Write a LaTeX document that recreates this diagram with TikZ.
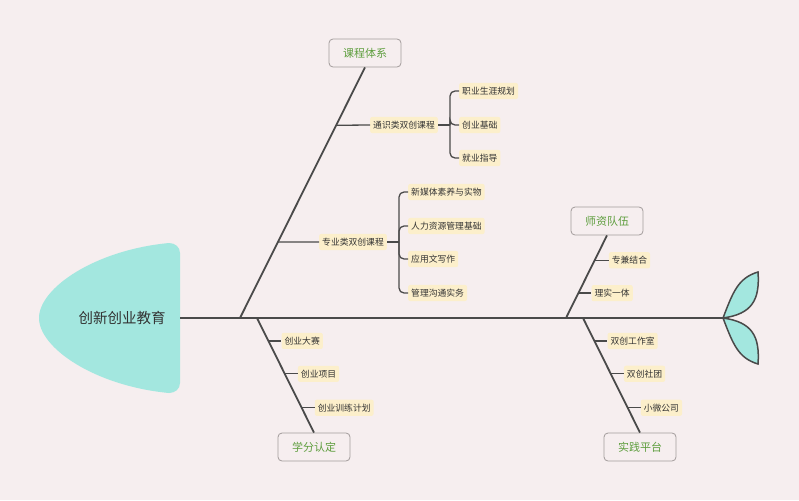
\documentclass[tikz,border=0pt]{standalone}
\usepackage{fontspec}
\setmainfont{Noto Sans CJK SC}
\usetikzlibrary{calc}
\definecolor{bgpink}{HTML}{F6EEEF}
\definecolor{headteal}{HTML}{A3E7DF}
\definecolor{boneline}{HTML}{4A4A4A}
\definecolor{boxline}{HTML}{A39C9C}
\definecolor{causegreen}{HTML}{5E9E3E}
\definecolor{itemfill}{HTML}{FCEFCB}
\definecolor{textgray}{HTML}{333333}
\tikzset{
  bone/.style={draw=boneline, line width=1.8pt},
  twig/.style={draw=boneline, line width=1.3pt},
  cause/.style={draw=boxline, line width=0.8pt, fill=bgpink, rounded corners=4pt,
    minimum width=72pt, minimum height=28pt, text=causegreen, font=\fontsize{11}{13}\selectfont},
  item/.style={fill=itemfill, rounded corners=2pt, inner xsep=3pt, inner ysep=4pt,
    text=textgray, font=\fontsize{8.8}{10}\selectfont},
}
\begin{document}
\begin{tikzpicture}[x=1pt, y=-1pt]
    \useasboundingbox (0,0) rectangle (799,500);
    \fill[bgpink] (0,0) rectangle (799,500);
    % head and tail
    \fill[headteal] (180,383) -- (180,253) .. controls (180,247) and (175,243) .. (169,243)
        .. controls (95,250) and (39,288) .. (39,318)
        .. controls (39,348) and (95,386) .. (169,393)
        .. controls (175,393) and (180,389) .. (180,383) -- cycle;
    \node[text=textgray, font=\fontsize{14.5}{16}\selectfont] (title) at (122,318) {创新创业教育};
    \coordinate (head) at (180,318);
    \coordinate (tail) at (723,318);
    \draw[bone] (head) -- (tail);
    \draw[fill=headteal, draw=boneline, line width=1.5pt] (tail)
        .. controls (733,292) and (738,278) .. (758,272)
        .. controls (760,300) and (752,314) .. (tail);
    \draw[fill=headteal, draw=boneline, line width=1.5pt] (tail)
        .. controls (733,344) and (738,358) .. (758,364)
        .. controls (760,336) and (752,322) .. (tail);
    % 课程体系
    \coordinate (j1) at (240,318);
    \node[cause] (kcts) at (365,53) {课程体系};
    \draw[bone] (j1) -- (kcts.south);
    \coordinate (a1) at ($(j1)!0.769!(kcts.south)$);
    \coordinate (a2) at ($(j1)!0.303!(kcts.south)$);
    \node[item] (tskc) at (404,125) {通识类双创课程};
    \node[item] (zykc) at (353,242) {专业类双创课程};
    \draw[twig] (a1) -- (tskc.west);
    \draw[twig] (a2) -- (zykc.west);
    \draw[twig] (tskc.east) -- ++(12,0) coordinate (b1);
    \draw[twig] (zykc.east) -- ++(12,0) coordinate (b2);
    \node[item, anchor=west] (ts1) at (459,91) {职业生涯规划};
    \node[item, anchor=west] (ts2) at (459,125) {创业基础};
    \node[item, anchor=west] (ts3) at (459,158) {就业指导};
    \node[item, anchor=west] (zy1) at (408,192) {新媒体素养与实物};
    \node[item, anchor=west] (zy2) at (408,226) {人力资源管理基础};
    \node[item, anchor=west] (zy3) at (408,259) {应用文写作};
    \node[item, anchor=west] (zy4) at (408,293) {管理沟通实务};
    \foreach \c in {ts1,ts2,ts3}
        \draw[twig, rounded corners=5pt] (b1) |- (\c.west);
    \foreach \c in {zy1,zy2,zy3,zy4}
        \draw[twig, rounded corners=5pt] (b2) |- (\c.west);
    % 学分认定
    \coordinate (j2) at (257,318);
    \node[cause] (xfrd) at (314,447) {学分认定};
    \draw[bone] (j2) -- (xfrd.north);
    \coordinate (d1) at ($(j2)!0.2!(xfrd.north)$);
    \coordinate (d2) at ($(j2)!0.487!(xfrd.north)$);
    \coordinate (d3) at ($(j2)!0.783!(xfrd.north)$);
    \node[item, anchor=west] (xf1) at ($(d1)+(13,0)$) {创业大赛};
    \node[item, anchor=west] (xf2) at ($(d2)+(13,0)$) {创业项目};
    \node[item, anchor=west] (xf3) at ($(d3)+(13,0)$) {创业训练计划};
    \foreach \d/\c in {d1/xf1,d2/xf2,d3/xf3}
        \draw[twig] (\d) -- (\c.west);
    % 师资队伍
    \coordinate (j3) at (566,318);
    \node[cause] (szdw) at (607,221) {师资队伍};
    \draw[bone] (j3) -- (szdw.south);
    \coordinate (e1) at ($(j3)!0.699!(szdw.south)$);
    \coordinate (e2) at ($(j3)!0.301!(szdw.south)$);
    \node[item, anchor=west] (sz1) at ($(e1)+(14,0)$) {专兼结合};
    \node[item, anchor=west] (sz2) at ($(e2)+(13,0)$) {理实一体};
    \foreach \d/\c in {e1/sz1,e2/sz2}
        \draw[twig] (\d) -- (\c.west);
    % 实践平台
    \coordinate (j4) at (583,318);
    \node[cause] (sjpt) at (640,447) {实践平台};
    \draw[bone] (j4) -- (sjpt.north);
    \coordinate (f1) at ($(j4)!0.2!(sjpt.north)$);
    \coordinate (f2) at ($(j4)!0.487!(sjpt.north)$);
    \coordinate (f3) at ($(j4)!0.783!(sjpt.north)$);
    \node[item, anchor=west] (sj1) at ($(f1)+(13,0)$) {双创工作室};
    \node[item, anchor=west] (sj2) at ($(f2)+(13,0)$) {双创社团};
    \node[item, anchor=west] (sj3) at ($(f3)+(13,0)$) {小微公司};
    \foreach \d/\c in {f1/sj1,f2/sj2,f3/sj3}
        \draw[twig] (\d) -- (\c.west);
\end{tikzpicture}
\end{document}
